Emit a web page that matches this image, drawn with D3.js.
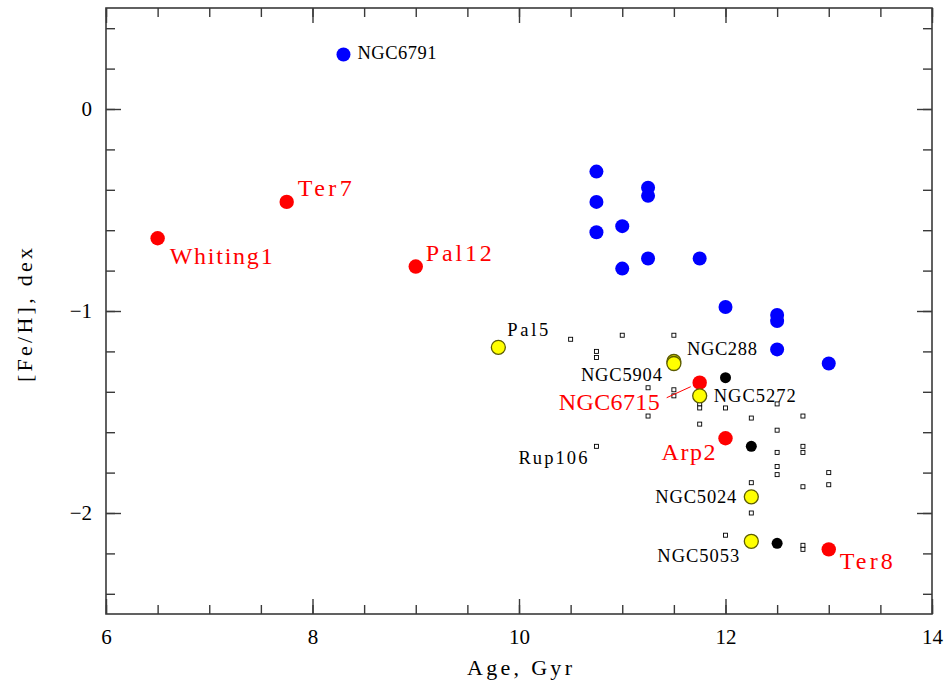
<!DOCTYPE html>
<html>
<head>
<meta charset="utf-8">
<script src="https://cdn.jsdelivr.net/npm/d3@7"></script>
<style>
  body { margin: 0; background: #fff; }
  text { font-family: "Liberation Serif", "DejaVu Serif", serif; }
</style>
</head>
<body>
<svg id="chart" width="945" height="684"></svg>
<script>
// Age (Gyr) and metallicity [Fe/H] of star clusters

// Old open clusters / disc clusters (blue)
const openAge = [8.30, 10.75, 10.75, 10.75, 11.00, 11.00, 11.25, 11.25, 11.25, 11.75, 12.00, 12.50, 12.50, 12.50, 13.00];
const openFeH = [0.27, -0.31, -0.46, -0.61, -0.58, -0.79, -0.39, -0.43, -0.74, -0.74, -0.98, -1.02, -1.05, -1.19, -1.26];

// Sagittarius clusters (red)
const sgrNames = ["Whiting1", "Ter7", "Pal12", "NGC6715", "Arp2", "Ter8"];
const sgrAge   = [6.50, 7.75, 9.00, 11.75, 12.00, 13.00];
const sgrFeH   = [-0.64, -0.46, -0.78, -1.355, -1.63, -2.18];

// Named halo clusters (yellow)
const haloNames = ["Pal5", "NGC288", "NGC5904", "NGC5272", "NGC5024", "NGC5053"];
const haloAge   = [9.80, 11.50, 11.50, 11.75, 12.25, 12.25];
const haloFeH   = [-1.18, -1.25, -1.26, -1.42, -1.92, -2.14];

// Other clusters marked with filled black dots
const darkAge = [12.00, 12.25, 12.50];
const darkFeH = [-1.33, -1.67, -2.15];

// Remaining comparison clusters (small open squares)
const otherAge = [10.50, 11.00, 11.50, 10.75, 10.75, 11.25, 11.50, 11.50, 11.25, 10.75,
                  11.75, 11.75, 12.00, 11.75, 12.25, 12.50, 12.75, 12.50, 12.75, 12.75,
                  12.50, 12.50, 12.50, 13.00, 13.00, 12.75, 12.25, 12.25, 12.00, 12.75, 12.75];
const otherFeH = [-1.14, -1.12, -1.12, -1.20, -1.23, -1.38, -1.39, -1.42, -1.52, -1.67,
                  -1.46, -1.48, -1.48, -1.56, -1.53, -1.46, -1.52, -1.59, -1.67, -1.70,
                  -1.70, -1.77, -1.81, -1.80, -1.86, -1.87, -1.85, -2.00, -2.11, -2.16, -2.18];

// Labelled clusters that are not in the named groups above
const extraNames = ["Rup106", "NGC6791"];

// Axis ticks
const xMajor = [6, 8, 10, 12, 14];
const xMinor = d3.range(6, 14.01, 0.5);
const yMajor = [0, -1, -2];
const yMinor = d3.range(-2.4, 0.41, 0.2).map(v => +v.toFixed(1));

// ---- layout ----
const svg = d3.select("#chart");
const L = 106, R = 932, T = 8, B = 614;
const x = d3.scaleLinear().domain([6, 14]).range([L, R]);
const y = d3.scaleLinear().domain([0.5, -2.5]).range([T, B]);
const axisColor = "#3a3a3a";

function styleAxis(g) {
  g.select(".domain").remove();
  g.selectAll(".tick line").attr("stroke", axisColor).attr("stroke-width", 1.4);
  g.selectAll("text").attr("fill", "#000").attr("font-size", 21)
    .attr("font-family", "Liberation Serif, DejaVu Serif, serif");
}

// minor ticks on all four sides
svg.append("g").attr("transform", `translate(0,${B})`)
  .call(d3.axisBottom(x).tickValues(xMinor).tickSize(-9).tickFormat(""))
  .call(styleAxis);
svg.append("g").attr("transform", `translate(0,${T})`)
  .call(d3.axisTop(x).tickValues(xMinor).tickSize(-9).tickFormat(""))
  .call(styleAxis);
svg.append("g").attr("transform", `translate(${L},0)`)
  .call(d3.axisLeft(y).tickValues(yMinor).tickSize(-9).tickFormat(""))
  .call(styleAxis);
svg.append("g").attr("transform", `translate(${R},0)`)
  .call(d3.axisRight(y).tickValues(yMinor).tickSize(-9).tickFormat(""))
  .call(styleAxis);

// major ticks, labelled on bottom and left
svg.append("g").attr("transform", `translate(0,${B})`)
  .call(d3.axisBottom(x).tickValues(xMajor).tickSize(-15).tickPadding(15).tickFormat(d3.format("d")))
  .call(styleAxis);
svg.append("g").attr("transform", `translate(0,${T})`)
  .call(d3.axisTop(x).tickValues(xMajor).tickSize(-15).tickFormat(""))
  .call(styleAxis);
svg.append("g").attr("transform", `translate(${L},0)`)
  .call(d3.axisLeft(y).tickValues(yMajor).tickSize(-15).tickPadding(14).tickFormat(d3.format("d")))
  .call(styleAxis);
svg.append("g").attr("transform", `translate(${R},0)`)
  .call(d3.axisRight(y).tickValues(yMajor).tickSize(-15).tickFormat(""))
  .call(styleAxis);

// frame
svg.append("rect")
  .attr("x", L).attr("y", T).attr("width", R - L).attr("height", B - T)
  .attr("fill", "none").attr("stroke", axisColor).attr("stroke-width", 1.6);

// axis titles
svg.append("text")
  .attr("x", (L + R) / 2 - 52).attr("y", 675)
  .attr("font-size", 22).attr("textLength", 105).attr("lengthAdjust", "spacing")
  .text("Age, Gyr");
svg.append("text")
  .attr("transform", `translate(32,${382}) rotate(-90)`)
  .attr("font-size", 22).attr("textLength", 134).attr("lengthAdjust", "spacing")
  .text("[Fe/H], dex");

const zip = (a, b) => a.map((v, i) => [v, b[i]]);

// small squares
svg.append("g").selectAll("rect")
  .data(zip(otherAge, otherFeH)).join("rect")
  .attr("x", d => x(d[0]) - 2).attr("y", d => y(d[1]) - 2)
  .attr("width", 4).attr("height", 4)
  .attr("fill", "#fff").attr("stroke", "#000").attr("stroke-width", 0.9);

// blue
svg.append("g").selectAll("circle")
  .data(zip(openAge, openFeH)).join("circle")
  .attr("cx", d => x(d[0])).attr("cy", d => y(d[1])).attr("r", 7)
  .attr("fill", "#0000ff");

// black
svg.append("g").selectAll("circle")
  .data(zip(darkAge, darkFeH)).join("circle")
  .attr("cx", d => x(d[0])).attr("cy", d => y(d[1])).attr("r", 5.5)
  .attr("fill", "#000");

// red
svg.append("g").selectAll("circle")
  .data(zip(sgrAge, sgrFeH)).join("circle")
  .attr("cx", d => x(d[0])).attr("cy", d => y(d[1])).attr("r", 7.2)
  .attr("fill", "#ff0000");

// yellow
svg.append("g").selectAll("circle")
  .data(zip(haloAge, haloFeH)).join("circle")
  .attr("cx", d => x(d[0])).attr("cy", d => y(d[1])).attr("r", 7)
  .attr("fill", "#ffff00").attr("stroke", "#5c5c00").attr("stroke-width", 1.3);

// ---- labels: offsets from the marker in pixels ----
const labelPlacement = {
  "NGC6791":  { dx: 14,  dy: 5,   anchor: "start", len: 79,  size: 18.5, color: "#000" },
  "Whiting1": { dx: 12,  dy: 26,  anchor: "start", len: 103, size: 24, color: "#ff0000" },
  "Ter7":     { dx: 11,  dy: -6,  anchor: "start", len: 54,  size: 24, color: "#ff0000" },
  "Pal12":    { dx: 10,  dy: -6,  anchor: "start", len: 66,  size: 24, color: "#ff0000" },
  "NGC6715":  { dx: -40, dy: 27,  anchor: "end",   len: 101, size: 24, color: "#ff0000" },
  "Arp2":     { dx: -10, dy: 22,  anchor: "end",   len: 54,  size: 24, color: "#ff0000" },
  "Ter8":     { dx: 11,  dy: 20,  anchor: "start", len: 53,  size: 24, color: "#ff0000" },
  "Pal5":     { dx: 9,   dy: -11, anchor: "start", len: 41,  size: 18.5, color: "#000" },
  "NGC288":   { dx: 13,  dy: -7,  anchor: "start", len: 70,  size: 18.5, color: "#000" },
  "NGC5904":  { dx: -12, dy: 17,  anchor: "end",   len: 81,  size: 18.5, color: "#000" },
  "NGC5272":  { dx: 14,  dy: 6,   anchor: "start", len: 82,  size: 18.5, color: "#000" },
  "NGC5024":  { dx: -15, dy: 6,   anchor: "end",   len: 81,  size: 18.5, color: "#000" },
  "NGC5053":  { dx: -12, dy: 21,  anchor: "end",   len: 82,  size: 18.5, color: "#000" },
  "Rup106":   { dx: -9,  dy: 18,  anchor: "end",   len: 69,  size: 18.5, color: "#000" }
};

const labelled = [
  ...sgrNames.map((n, i) => ({ name: n, age: sgrAge[i], feh: sgrFeH[i] })),
  ...haloNames.map((n, i) => ({ name: n, age: haloAge[i], feh: haloFeH[i] })),
  { name: extraNames[0], age: otherAge[9], feh: otherFeH[9] },
  { name: extraNames[1], age: openAge[0], feh: openFeH[0] }
];

// leader line for NGC6715
const m54 = labelled.find(d => d.name === "NGC6715");
svg.append("line")
  .attr("x1", x(m54.age) - 9).attr("y1", y(m54.feh) + 4)
  .attr("x2", x(m54.age) - 33).attr("y2", y(m54.feh) + 15)
  .attr("stroke", "#ff0000").attr("stroke-width", 1);

svg.append("g").selectAll("text")
  .data(labelled).join("text")
  .each(function (d) {
    const p = labelPlacement[d.name];
    const sx = x(d.age) + p.dx;
    d3.select(this)
      .attr("x", p.anchor === "end" ? sx - p.len : sx)
      .attr("y", y(d.feh) + p.dy)
      .attr("font-size", p.size)
      .attr("fill", p.color)
      .attr("textLength", p.len)
      .attr("lengthAdjust", "spacing")
      .text(d.name);
  });
</script>
</body>
</html>
